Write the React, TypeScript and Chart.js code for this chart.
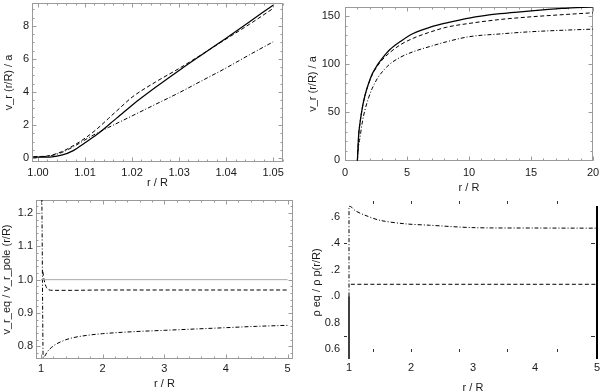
import React, { useEffect, useRef } from "react";
import { Chart, registerables } from "chart.js";
Chart.register(...registerables);

const FONT = "'Liberation Sans', Arial, Helvetica, sans-serif";
const INK = "#1a1a1a";
const FRAME = "#9a9a9a";

// ---------- Top-left panel: v_r(r/R)/a close to the surface ----------
const TL_R = [0.999, 1.0025, 1.005, 1.0075, 1.01, 1.0125, 1.015, 1.0175, 1.02, 1.025, 1.03, 1.035, 1.04, 1.045, 1.05];
const TL_SOLID = [0.05, 0.06, 0.17, 0.45, 0.92, 1.42, 2.0, 2.6, 3.2, 4.28, 5.3, 6.28, 7.25, 8.25, 9.25];
const TL_DASHED = [0.07, 0.15, 0.38, 0.75, 1.2, 1.75, 2.4, 3.05, 3.68, 4.6, 5.42, 6.3, 7.2, 8.1, 9.05];
const TL_DASHDOT = [0.06, 0.13, 0.33, 0.68, 1.1, 1.5, 1.85, 2.2, 2.55, 3.25, 3.95, 4.7, 5.45, 6.25, 7.03];
const TL_X_TICKS = [1.0, 1.01, 1.02, 1.03, 1.04, 1.05];
const TL_X_LABELS = ["1.00", "1.01", "1.02", "1.03", "1.04", "1.05"];
const TL_Y_TICKS = [0, 2, 4, 6, 8];
const TL_Y_LABELS = ["0", "2", "4", "6", "8"];

// ---------- Top-right panel: v_r(r/R)/a out to 20 R ----------
const TR_R = [1, 1.1, 1.2, 1.4, 1.6, 1.9, 2.2, 2.6, 3, 3.6, 4.5, 5.5, 7, 8.2, 10, 12.5, 15, 17.5, 20];
const TR_SOLID = [0, 26, 38, 55, 67, 80, 90, 99, 106, 115, 124, 132, 139, 143, 148, 152.5, 155.5, 158, 159.7];
const TR_DASHED = [0, 26, 38, 55, 67, 79.5, 89, 98, 104.5, 112, 120.5, 127, 134, 138.5, 142.4, 146.5, 149.3, 151.5, 153.5];
const TR_DASHDOT = [0, 15, 23, 40, 52, 65, 75, 85, 92, 100, 107.5, 113, 119, 123.4, 128.6, 131.5, 133.8, 135.3, 136.5];
const TR_X_TICKS = [0, 5, 10, 15, 20];
const TR_X_LABELS = ["0", "5", "10", "15", "20"];
const TR_Y_TICKS = [0, 50, 100, 150];
const TR_Y_LABELS = ["0", "50", "100", "150"];

// ---------- Bottom-left panel: v_r_eq / v_r_pole ----------
const BL_REF_R = [1, 5];
const BL_REF = [1.0, 1.0];
const BL_DASH_R = [1.03, 1.05, 1.08, 1.12, 1.2, 1.5, 2, 3, 4, 5];
const BL_DASHED = [1.024, 1.0, 0.98, 0.97, 0.968, 0.968, 0.969, 0.969, 0.969, 0.969];
const BL_DD_R = [1.012, 1.02, 1.028, 1.035, 1.06, 1.1, 1.2, 1.35, 1.5, 1.75, 2, 2.5, 3, 3.5, 4, 4.5, 5];
const BL_DASHDOT = [1.3, 1.1, 0.88, 0.766, 0.77, 0.783, 0.801, 0.816, 0.825, 0.833, 0.838, 0.844, 0.848, 0.852, 0.856, 0.86, 0.863];
const BL_X_TICKS = [1, 2, 3, 4, 5];
const BL_X_LABELS = ["1", "2", "3", "4", "5"];
const BL_Y_TICKS = [0.8, 0.9, 1.0, 1.1, 1.2];
const BL_Y_LABELS = ["0.8", "0.9", "1.0", "1.1", "1.2"];

// ---------- Bottom-right panel: rho_eq / rho_p ----------
const BR_LEFT_R = [1, 1];
const BR_LEFT = [0.527, 1.0];
const BR_RIGHT_R = [5, 5];
const BR_RIGHT = [0.527, 1.68];
const BR_DASH_R = [1.03, 5];
const BR_DASHED = [1.09, 1.09];
const BR_DD_R = [1, 1, 1.03, 1.1, 1.25, 1.5, 1.9, 2.3, 3, 4, 5];
const BR_DASHDOT = [1.0, 1.675, 1.675, 1.645, 1.612, 1.572, 1.546, 1.535, 1.517, 1.514, 1.513];
const BR_X_TICKS = [1, 2, 3, 4, 5];
const BR_X_LABELS = ["1", "2", "3", "4", "5"];
const BR_Y_TICKS = [1.6, 1.4, 1.2, 1.0, 0.8, 0.6];
const BR_Y_LABELS = [".6", ".4", ".2", ".0", "0.8", "0.6"];
const BR_EDGE_MARKS = [1.39, 2.0, 2.77, 3.55, 4.35];
const BR_LEFT_MARKS = [1.4, 0.7];
const BR_RIGHT_MARKS = [1.4, 0.7];

const pts = (xs: number[], ys: number[]) => xs.map((x, i) => ({ x, y: ys[i] }));

const SOLID = { borderColor: "#000", borderWidth: 1.25, borderDash: [] as number[] };
const DASHED = { borderColor: "#000", borderWidth: 1, borderDash: [4, 2.5] };
const DASHDOT = { borderColor: "#000", borderWidth: 1, borderDash: [4, 2, 1, 2] };

function ds(data: any, style: any, extra: any = {}) {
  return {
    data,
    ...style,
    pointRadius: 0,
    fill: false,
    cubicInterpolationMode: "monotone",
    ...extra,
  };
}

function makeFrame(f: any) {
  return {
    id: "frame",
    beforeDatasetsDraw(chart: any) {
      const { ctx, chartArea: a } = chart;
      const xs = chart.scales.x;
      const ys = chart.scales.y;
      const seg = (x1: number, y1: number, x2: number, y2: number) => {
        ctx.beginPath();
        ctx.moveTo(x1, y1);
        ctx.lineTo(x2, y2);
        ctx.stroke();
      };
      ctx.save();
      ctx.lineWidth = 1;
      if (f.box) {
        ctx.strokeStyle = FRAME;
        const L = Math.round(a.left) + 0.5;
        const T = Math.round(a.top) + 0.5;
        const R = Math.round(a.right) - 0.5;
        const B = Math.round(a.bottom) - 0.5;
        ctx.strokeRect(L, T, R - L, B - T);
        const xMarks = (step: number, len: number) => {
          for (let k = Math.ceil(xs.min / step - 1e-9); k * step <= xs.max + 1e-9; k++) {
            const px = Math.round(xs.getPixelForValue(k * step)) + 0.5;
            seg(px, B, px, B - len);
            seg(px, T, px, T + len);
          }
        };
        const yMarks = (step: number, len: number) => {
          for (let k = Math.ceil(ys.min / step - 1e-9); k * step <= ys.max + 1e-9; k++) {
            const py = Math.round(ys.getPixelForValue(k * step)) + 0.5;
            seg(L, py, L + len, py);
            seg(R, py, R - len, py);
          }
        };
        xMarks(f.xMinor, 2);
        xMarks(f.xMajor, 4);
        yMarks(f.yMinor, 2);
        yMarks(f.yMajor, 4);
      } else {
        ctx.strokeStyle = "#333";
        for (const v of f.edge || []) {
          const px = Math.round(xs.getPixelForValue(v)) + 0.5;
          seg(px, a.top - 5, px, a.top - 2);
          seg(px, a.bottom - 10, px, a.bottom - 7);
        }
        for (const v of f.left || []) {
          const py = Math.round(ys.getPixelForValue(v)) + 0.5;
          seg(a.left - 5, py, a.left - 2, py);
        }
        for (const v of f.right || []) {
          const py = Math.round(ys.getPixelForValue(v)) + 0.5;
          seg(a.right - 6, py, a.right - 2, py);
        }
      }
      ctx.restore();
    },
  };
}

function buildConfig(p: any) {
  const font = { family: FONT, size: 11 };
  return {
    type: "line",
    data: { datasets: p.datasets },
    options: {
      responsive: false,
      animation: false,
      events: [],
      layout: { padding: p.pad },
      plugins: { legend: { display: false }, tooltip: { enabled: false } },
      elements: { point: { radius: 0 } },
      scales: {
        x: {
          type: "linear",
          position: "bottom",
          min: p.x[0],
          max: p.x[1],
          afterBuildTicks: (s: any) => {
            s.ticks = p.xTicks.map((v: number) => ({ value: v }));
          },
          afterFit: (s: any) => {
            s.height = p.xHeight;
            s.paddingLeft = 0;
            s.paddingRight = 0;
          },
          grid: { display: false, drawTicks: false },
          border: { display: false },
          ticks: {
            autoSkip: false,
            maxRotation: 0,
            minRotation: 0,
            padding: p.xTickPad,
            color: INK,
            font,
            callback: (_v: any, i: number) => p.xLabels[i],
          },
          title: {
            display: true,
            text: p.xTitle,
            color: INK,
            font,
            padding: { top: 0, bottom: p.xTitlePad },
          },
        },
        y: {
          type: "linear",
          position: "left",
          min: p.y[0],
          max: p.y[1],
          afterBuildTicks: (s: any) => {
            s.ticks = p.yTicks.map((v: number) => ({ value: v }));
          },
          afterFit: (s: any) => {
            s.width = p.yWidth;
            s.paddingTop = 0;
            s.paddingBottom = 0;
          },
          grid: { display: false, drawTicks: false },
          border: { display: false },
          ticks: {
            autoSkip: false,
            padding: p.yTickPad,
            color: INK,
            font,
            callback: (_v: any, i: number) => p.yLabels[i],
          },
          title: {
            display: true,
            text: p.yTitle,
            color: INK,
            font,
            padding: { top: p.yTitlePad, bottom: 0 },
          },
        },
      },
    },
    plugins: [makeFrame(p.frame)],
  };
}

const PANELS = [
  {
    left: 0,
    top: 0,
    pad: { left: 0, right: 17, top: 3, bottom: 0 },
    yWidth: 32,
    xHeight: 34,
    x: [0.99872, 1.0521],
    y: [-0.24, 9.38],
    xTicks: TL_X_TICKS,
    xLabels: TL_X_LABELS,
    yTicks: TL_Y_TICKS,
    yLabels: TL_Y_LABELS,
    xTickPad: 4,
    yTickPad: 3,
    xTitlePad: 6,
    yTitlePad: 2.4,
    xTitle: "r / R",
    yTitle: "v_r (r/R) / a",
    frame: { box: true, xMajor: 0.01, xMinor: 0.002, yMajor: 2, yMinor: 0.5 },
    datasets: [
      ds(pts(TL_R, TL_DASHDOT), DASHDOT),
      ds(pts(TL_R, TL_DASHED), DASHED),
      ds(pts(TL_R, TL_SOLID), SOLID),
    ],
  },
  {
    left: 300,
    top: 0,
    pad: { left: 0, right: 7, top: 7, bottom: 0 },
    yWidth: 45,
    xHeight: 35,
    x: [0, 20],
    y: [-0.6, 159.5],
    xTicks: TR_X_TICKS,
    xLabels: TR_X_LABELS,
    yTicks: TR_Y_TICKS,
    yLabels: TR_Y_LABELS,
    xTickPad: 5,
    yTickPad: 5,
    xTitlePad: 1.1,
    yTitlePad: 6.7,
    xTitle: "r / R",
    yTitle: "v_r (r/R) / a",
    frame: { box: true, xMajor: 5, xMinor: 1, yMajor: 50, yMinor: 10 },
    datasets: [
      ds(pts(TR_R, TR_DASHDOT), DASHDOT),
      ds(pts(TR_R, TR_DASHED), DASHED),
      ds(pts(TR_R, TR_SOLID), SOLID),
    ],
  },
  {
    left: 0,
    top: 196,
    pad: { left: 0, right: 7, top: 4, bottom: 0 },
    yWidth: 36,
    xHeight: 33,
    x: [0.919, 5.088],
    y: [0.762, 1.239],
    xTicks: BL_X_TICKS,
    xLabels: BL_X_LABELS,
    yTicks: BL_Y_TICKS,
    yLabels: BL_Y_LABELS,
    xTickPad: 3,
    yTickPad: 3,
    xTitlePad: 1.4,
    yTitlePad: 0.4,
    xTitle: "r / R",
    yTitle: "v_r_eq / v_r_pole (r/R)",
    frame: { box: true, xMajor: 1, xMinor: 0.2, yMajor: 0.1, yMinor: 0.02 },
    datasets: [
      ds(pts(BL_REF_R, BL_REF), { borderColor: "#a8a8a8", borderWidth: 1, borderDash: [] }),
      ds(pts(BL_DD_R, BL_DASHDOT), DASHDOT),
      ds(pts(BL_DASH_R, BL_DASHED), DASHED),
    ],
  },
  {
    left: 300,
    top: 196,
    pad: { left: 0, right: 3, top: 10, bottom: 0 },
    yWidth: 49,
    xHeight: 33,
    x: [1, 5],
    y: [0.527, 1.68],
    xTicks: BR_X_TICKS,
    xLabels: BR_X_LABELS,
    yTicks: BR_Y_TICKS,
    yLabels: BR_Y_LABELS,
    xTickPad: 2,
    yTickPad: 9,
    xTitlePad: -2.3,
    yTitlePad: 10,
    xTitle: "r / R",
    yTitle: "ρ eq / ρ p(r/R)",
    frame: { box: false, edge: BR_EDGE_MARKS, left: BR_LEFT_MARKS, right: BR_RIGHT_MARKS },
    datasets: [
      ds(pts(BR_LEFT_R, BR_LEFT), { ...SOLID, borderWidth: 1.5 }, { tension: 0, cubicInterpolationMode: "default", clip: 4 }),
      ds(pts(BR_RIGHT_R, BR_RIGHT), { ...SOLID, borderWidth: 2 }, { tension: 0, cubicInterpolationMode: "default", clip: 4 }),
      ds(pts(BR_DASH_R, BR_DASHED), DASHED, { tension: 0, cubicInterpolationMode: "default", clip: 4 }),
      ds(pts(BR_DD_R, BR_DASHDOT), DASHDOT, { tension: 0.3, cubicInterpolationMode: "default", clip: 4 }),
    ],
  },
];

export default function App() {
  const refs = useRef<(HTMLCanvasElement | null)[]>([]);
  useEffect(() => {
    const charts = PANELS.map((p, i) => new Chart(refs.current[i] as HTMLCanvasElement, buildConfig(p) as any));
    return () => charts.forEach((c) => c.destroy());
  }, []);
  return (
    <div style={{ position: "absolute", left: 0, top: 0, width: 600, height: 392, background: "#fff", overflow: "hidden" }}>
      {PANELS.map((p, i) => (
        <canvas
          key={i}
          ref={(el) => {
            refs.current[i] = el;
          }}
          width={300}
          height={196}
          style={{ position: "absolute", left: p.left, top: p.top, width: 300, height: 196 }}
        />
      ))}
    </div>
  );
}
